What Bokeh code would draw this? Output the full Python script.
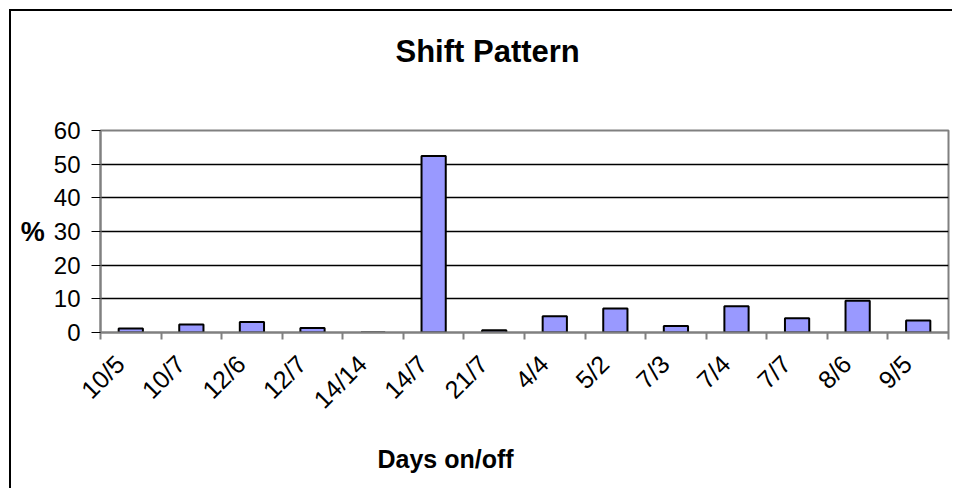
from bokeh.plotting import figure
from bokeh.models import FixedTicker, Range1d, Title
from bokeh.embed import file_html
from bokeh.resources import INLINE

categories = ["10/5", "10/7", "12/6", "12/7", "14/14", "14/7", "21/7",
              "4/4", "5/2", "7/3", "7/4", "7/7", "8/6", "9/5"]
percent = [1.2, 2.4, 3.1, 1.3, 0.0, 52.4, 0.7, 4.8, 7.1, 1.9, 7.8, 4.2, 9.4, 3.6]
y_ticks = [0, 10, 20, 30, 40, 50, 60]
grid_ticks = [10, 20, 30, 40, 50]
title_text = "Shift Pattern"
x_title = "Days on/off"
y_title = "%"

FONT = "Liberation Sans"
n = len(categories)
centers = [i + 0.5 for i in range(n)]
bounds = [float(i) for i in range(n + 1)]
label_pos = [c - 0.18 for c in centers]   # rotated labels end slightly left of bar centre

p = figure(width=943, height=479, output_backend="svg", toolbar_location=None,
           x_range=Range1d(0, n), y_range=Range1d(0, 60),
           min_border_left=89, min_border_right=6, min_border_top=119,
           min_border_bottom=158)
p.styles = {"box-shadow": "-2px -2px 0 0 black",
            "margin-left": "11px", "margin-top": "11px"}
p.background_fill_color = "white"
p.border_fill_color = "white"
p.outline_line_color = "#808080"
p.outline_line_width = 2

p.vbar(x=centers, top=percent, width=0.4, fill_color="#9999FF",
       line_color="black", line_width=2)

# title (outermost) with a blank spacer panel between it and the plot area
p.title.text = title_text
p.title.align = "left"
p.title.offset = 295
p.title.standoff = 0
p.title.text_font = FONT
p.title.text_font_size = "31px"
p.title.text_font_style = "bold"
p.title.text_color = "black"
p.add_layout(Title(text=" ", standoff=49, text_font=FONT, text_font_size="10px"),
             "above")

# x axis
p.xaxis.ticker = FixedTicker(ticks=label_pos, minor_ticks=bounds)
p.xaxis.major_label_overrides = {c: lab for c, lab in zip(label_pos, categories)}
p.xaxis.major_tick_out = 0
p.xaxis.major_tick_in = 0
p.xaxis.minor_tick_out = 7
p.xaxis.minor_tick_in = 0
p.xaxis.minor_tick_line_color = "#808080"
p.xaxis.minor_tick_line_width = 2
p.xaxis.axis_line_color = "#808080"
p.xaxis.axis_line_width = 2
p.xaxis.major_label_orientation = 0.785398
p.xaxis.major_label_text_font = FONT
p.xaxis.major_label_text_font_size = "25px"
p.xaxis.major_label_text_color = "black"
p.xaxis.major_label_standoff = 20

p.add_layout(Title(text=x_title, align="left", offset=277, standoff=33,
                   text_font=FONT, text_font_size="25px", text_font_style="bold",
                   text_color="black"), "below")

# y axis
p.yaxis.ticker = FixedTicker(ticks=y_ticks)
p.yaxis.major_tick_out = 9
p.yaxis.major_tick_in = 0
p.yaxis.minor_tick_line_color = None
p.yaxis.major_tick_line_color = "black"
p.yaxis.axis_line_color = "#808080"
p.yaxis.axis_line_width = 2
p.yaxis.major_label_text_font = FONT
p.yaxis.major_label_text_font_size = "24px"
p.yaxis.major_label_text_color = "black"
p.yaxis.major_label_standoff = 11
p.yaxis.axis_label = y_title
p.yaxis.axis_label_orientation = "horizontal"
p.yaxis.axis_label_standoff = 6
p.yaxis.axis_label_text_font = FONT
p.yaxis.axis_label_text_font_size = "27px"
p.yaxis.axis_label_text_font_style = "bold"
p.yaxis.axis_label_text_color = "black"

p.xgrid.grid_line_color = None
p.ygrid.ticker = FixedTicker(ticks=grid_ticks)
p.ygrid.grid_line_color = "black"
p.ygrid.grid_line_width = 1.5

open("out.html", "w").write(file_html(p, INLINE))
